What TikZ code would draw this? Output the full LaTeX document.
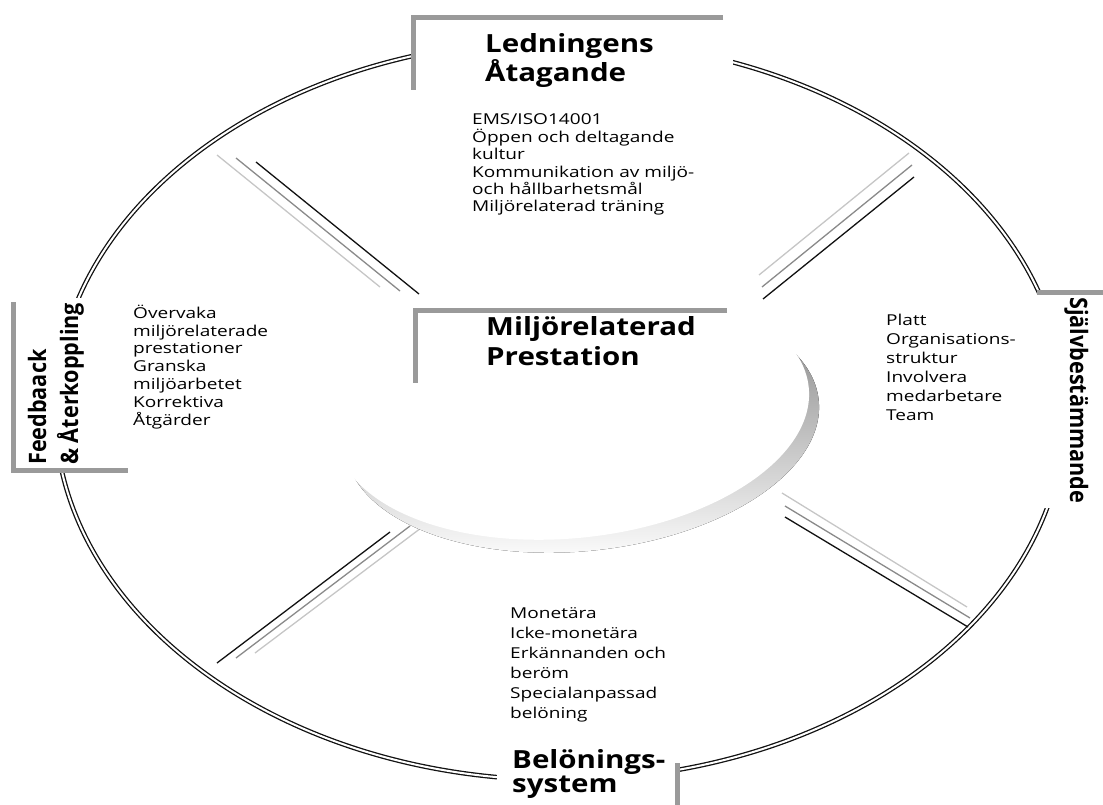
\documentclass[tikz,border=0pt]{standalone}
\usepackage{fontspec}
\setmainfont{Open Sans}
\newfontfamily\bodyfont{Open Sans}[FakeStretch=1.27]
\newfontfamily\headfont{Open Sans}[FakeStretch=1.18]
\newfontfamily\sidefont{Open Sans}[FakeStretch=0.9]
\usepackage{tikz}
\usetikzlibrary{positioning}
\definecolor{ink}{HTML}{111111}
\definecolor{framegray}{HTML}{9A9A9A}
\definecolor{spokemid}{HTML}{8A8A8A}
\definecolor{spokelight}{HTML}{C6C6C6}
\definecolor{shade}{HTML}{A2A2A2}
\tikzset{
  ring/.style={draw=ink,double=white,double distance=2pt,line width=1.3pt},
  bracket/.style={draw=framegray,line width=5pt},
  spokedark/.style={draw=ink,line width=1.3pt},
  spokemid/.style={draw=spokemid,line width=1.3pt},
  spokelight/.style={draw=spokelight,line width=1.3pt},
  heading/.style={font=\headfont\bfseries\fontsize{25}{#1}\selectfont,align=left,inner sep=0pt,anchor=base west},
  heading/.default=29.5,
  side/.style={font=\sidefont\bfseries\fontsize{24}{#1}\selectfont,align=left,inner sep=0pt,anchor=base west},
  side/.default=32,
  body/.style={font=\bodyfont\fontsize{15}{#1}\selectfont,align=left,inner sep=0pt,anchor=base west},
  body/.default=17.8,
}

\begin{document}
\begin{tikzpicture}[x=1pt,y=-1pt]
  \useasboundingbox (0,0) rectangle (1103,805);
  % outer ring, broken where the headings sit
  \draw[ring] (560,410) ellipse [x radius=505,y radius=370];
  \fill[white] (413,18) rectangle (733,92);
  \fill[white] (13,298) rectangle (128,470);
  \fill[white] (1037,292) rectangle (1103,508);
  \fill[white] (497,745) rectangle (677,805);

  % spokes, three per quarter
  \foreach \a/\b in {{256,162}/{419,294},{914,177}/{763,299},{390,532}/{217,663},{785,517}/{968,627}}
    \draw[spokedark] (\a) -- (\b);
  \foreach \a/\b in {{236,158}/{400,291},{912,165}/{762,287},{410,526}/{236,658},{785,506}/{970,618}}
    \draw[spokemid] (\a) -- (\b);
  \foreach \a/\b in {{217,155}/{380,287},{909,153}/{759,275},{429,522}/{255,653},{782,493}/{967,607}}
    \draw[spokelight] (\a) -- (\b);

  % centre disc with its shadow
  \fill[shade,rotate around={6:(582,425)}] (582,425) ellipse [x radius=238,y radius=126];
  \fill[white,rotate around={6:(572,412)}] (572,412) ellipse [x radius=238,y radius=126];

  % brackets
  \draw[bracket] (723,18) -- (413,18) -- (413,90);
  \draw[bracket] (727,310) -- (415,310) -- (415,383);
  \draw[bracket] (13,302) -- (13,470) -- (128,470);
  \draw[bracket] (1037,292) -- (1103,292);
  \draw[bracket] (677,763) -- (677,805);

  % headings (anchored at the last baseline)
  \node[heading] (lead) at (485,82) {Ledningens\\Åtagande};
  \node[heading] (perf) at (486,365) {Miljörelaterad\\Prestation};
  \node[heading=24] (reward) at (512,792) {Belönings-\\system};
  \node[side,rotate=90] (feed) at (78,465) {Feedbaack\\\& Återkoppling};
  \node[side,rotate=-90] (self) at (1070,297) {Självbestämmande};

  % lists
  \node[body=17.4] (leadtxt) at (472,212)
    {EMS/ISO14001\\Öppen och deltagande\\kultur\\Kommunikation av miljö-\\och hållbarhetsmål\\Miljörelaterad träning};
  \node[body] (feedtxt) at (133,425)
    {Övervaka\\miljörelaterade\\prestationer\\Granska\\miljöarbetet\\Korrektiva\\Åtgärder};
  \node[body=19] (selftxt) at (886,420)
    {Platt\\Organisations-\\struktur\\Involvera\\medarbetare\\Team};
  \node[body=20] (rewardtxt) at (510,718)
    {Monetära\\Icke-monetära\\Erkännanden och\\beröm\\Specialanpassad\\belöning};
\end{tikzpicture}
\end{document}
